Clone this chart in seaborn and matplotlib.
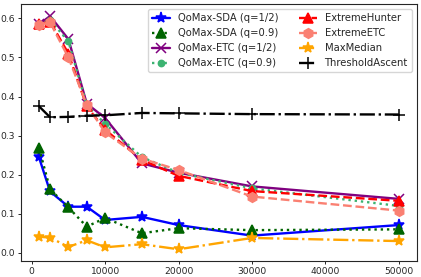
import matplotlib
matplotlib.use("Agg")
import matplotlib.pyplot as plt
import seaborn as sns
import pandas as pd

budgets = [1000, 2500, 5000, 7500, 10000, 15000, 20000, 30000, 50000]

qomax_sda_half = [0.244, 0.157, 0.118, 0.118, 0.084, 0.092, 0.071, 0.044, 0.071]
qomax_sda_09 = [0.268, 0.163, 0.116, 0.067, 0.089, 0.050, 0.063, 0.058, 0.060]
qomax_etc_half = [0.585, 0.606, 0.547, 0.382, 0.345, 0.229, 0.205, 0.170, 0.138]
qomax_etc_09 = [0.585, 0.596, 0.541, 0.378, 0.330, 0.245, 0.205, 0.165, 0.120]
extreme_hunter = [0.585, 0.592, 0.510, 0.375, 0.315, 0.238, 0.197, 0.158, 0.133]
extreme_etc = [0.584, 0.590, 0.500, 0.379, 0.308, 0.241, 0.212, 0.144, 0.108]
max_median = [0.041, 0.039, 0.015, 0.032, 0.014, 0.022, 0.009, 0.038, 0.030]
threshold_ascent = [0.375, 0.347, 0.348, 0.351, 0.352, 0.358, 0.357, 0.355, 0.354]

series = [
    ("QoMax-SDA (q=1/2)", qomax_sda_half, "blue", "-", "*", 8),
    ("QoMax-SDA (q=0.9)", qomax_sda_09, "darkgreen", ":", "^", 7),
    ("QoMax-ETC (q=1/2)", qomax_etc_half, "purple", "-", "x", 7),
    ("QoMax-ETC (q=0.9)", qomax_etc_09, "mediumseagreen", ":", "o", 4.5),
    ("ExtremeHunter", extreme_hunter, "red", "--", "^", 7),
    ("ExtremeETC", extreme_etc, "salmon", "--", "h", 7),
    ("MaxMedian", max_median, "orange", "-.", "*", 8),
    ("ThresholdAscent", threshold_ascent, "black", "-.", "+", 8),
]

sns.set_style("ticks")
plt.rcParams['font.family'] = ['DejaVu Sans']

fig = plt.figure(figsize=(4.21, 2.77), dpi=100)
ax = fig.add_axes([0.05, 0.058, 0.94, 0.926])

for name, vals, color, ls, marker, ms in series:
    df = pd.DataFrame({"budget": budgets, "value": vals})
    sns.lineplot(data=df, x="budget", y="value", ax=ax, color=color,
                 linestyle=ls, marker=marker, markersize=ms, linewidth=1.7,
                 markeredgecolor=color, markeredgewidth=1.1, label=name)

ax.set_xticks([0, 10000, 20000, 30000, 40000, 50000])
ax.set_yticks([0.0, 0.1, 0.2, 0.3, 0.4, 0.5, 0.6])
ax.set_xlabel("")
ax.set_ylabel("")
ax.tick_params(labelsize=6.6, length=2.5, width=0.7, pad=2)
for s in ax.spines.values():
    s.set_linewidth(0.8)
ax.legend(loc="upper right", ncol=2, fontsize=7.2, handlelength=1.8,
          columnspacing=2.0, labelspacing=0.5, handletextpad=0.8,
          borderpad=0.4, framealpha=0.8)

fig.savefig("out.png", dpi=100)
